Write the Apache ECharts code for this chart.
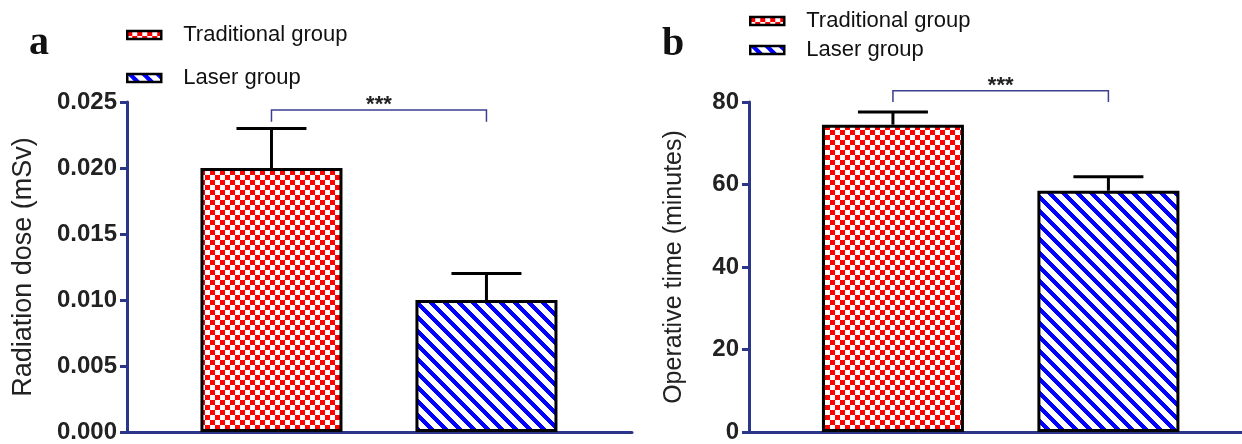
<!DOCTYPE html>
<html>
<head>
<meta charset="utf-8">
<script src="https://cdn.jsdelivr.net/npm/echarts@6/dist/echarts.min.js"></script>
<style>
html,body{margin:0;padding:0;background:#fff;}
#chart{width:1242px;height:444px;}
</style>
</head>
<body>
<div id="chart"></div>
<script>
// ---- data ----
const categories = ['Traditional group', 'Laser group'];
const barPositions = [1, 2];
const radiationMean = [0.020, 0.010];
const radiationSD = [0.003, 0.002];
const operativeMean = [74.5, 58.5];
const operativeSD = [3.1, 3.4];
const radiationTicks = [0, 0.005, 0.010, 0.015, 0.020, 0.025];
const operativeTicks = [0, 20, 40, 60, 80];
const radiationBracket = [0.0244, 0.0235];
const operativeBracket = [82.7, 80.0];
const sigLabels = ['***', '***'];
const panelLabels = ['a', 'b'];
const yTitles = ['Radiation dose (mSv)', 'Operative time (minutes)'];

// ---- patterns ----
function checker() {
  const c = document.createElement('canvas');
  c.width = 10; c.height = 10;
  const g = c.getContext('2d');
  g.fillStyle = '#ffffff'; g.fillRect(0, 0, 10, 10);
  g.fillStyle = '#ff0000';
  g.fillRect(0, 0, 5, 5); g.fillRect(5, 5, 5, 5);
  return c;
}
function stripes() {
  const n = 14;
  const c = document.createElement('canvas');
  c.width = n; c.height = n;
  const g = c.getContext('2d');
  const img = g.createImageData(n, n);
  for (let y = 0; y < n; y++) for (let x = 0; x < n; x++) {
    const d = (((x - y) % n) + n) % n;
    const i = (y * n + x) * 4;
    if (d < 6) { img.data[i] = 0; img.data[i+1] = 0; img.data[i+2] = 255; }
    else { img.data[i] = 255; img.data[i+1] = 255; img.data[i+2] = 255; }
    img.data[i+3] = 255;
  }
  g.putImageData(img, 0, 0);
  return c;
}
const fills = [
  { image: checker(), repeat: 'repeat' },
  { image: stripes(), repeat: 'repeat' }
];

const NAVY = '#2b3589';
const chart = echarts.init(document.getElementById('chart'), null, { renderer: 'canvas' });

const grids = [
  { left: 127, top: 102, width: 505, height: 334 },
  { left: 749, top: 102, width: 493, height: 334 }
];
const xRanges = [[0.328, 2.677], [0.332, 2.62]];
const yTickSets = [radiationTicks, operativeTicks];
const means = [radiationMean, operativeMean];
const sds = [radiationSD, operativeSD];
const brackets = [radiationBracket, operativeBracket];

const xAxes = [], yAxes = [], series = [];
for (let p = 0; p < 2; p++) {
  xAxes.push({
    gridIndex: p, type: 'value', min: xRanges[p][0], max: xRanges[p][1],
    axisLine: { show: true, lineStyle: { color: NAVY, width: 3 } },
    axisTick: { show: false }, axisLabel: { show: false }, splitLine: { show: false }
  });
  const t = yTickSets[p];
  yAxes.push({
    gridIndex: p, type: 'value', min: t[0], max: t[t.length - 1], interval: t[1] - t[0],
    name: yTitles[p], nameLocation: 'middle', nameGap: p === 0 ? 90 : 62,
    nameTextStyle: { fontFamily: 'Liberation Sans', fontSize: p === 0 ? 27 : 25, color: '#222' },
    axisLine: { show: true, lineStyle: { color: NAVY, width: 3 } },
    axisTick: { show: true, length: 7, lineStyle: { color: NAVY, width: 3 } },
    axisLabel: {
      margin: 10, fontFamily: 'Liberation Sans', fontWeight: 'bold', fontSize: 24, color: '#222',
      formatter: p === 0 ? (v) => v.toFixed(3) : (v) => String(v)
    },
    splitLine: { show: false }
  });
  for (let k = 0; k < 2; k++) {
    series.push({
      type: 'bar', name: categories[k], xAxisIndex: p, yAxisIndex: p,
      barWidth: 142, barGap: '-100%',
      data: [[barPositions[k], means[p][k]]],
      itemStyle: { color: fills[k], borderColor: '#000', borderWidth: 3 },
      emphasis: { disabled: true }
    });
  }
  series.push({
    type: 'custom', xAxisIndex: p, yAxisIndex: p, z: 5, clip: false,
    data: barPositions.map((x, k) => [x, means[p][k], sds[p][k]]),
    renderItem: function (params, api) {
      const x = api.value(0), m = api.value(1), s = api.value(2);
      const base = api.coord([x, m]);
      const top = api.coord([x, m + s]);
      return {
        type: 'group', children: [
          { type: 'line', shape: { x1: base[0], y1: base[1], x2: top[0], y2: top[1] }, style: { stroke: '#000', lineWidth: 3 } },
          { type: 'line', shape: { x1: top[0] - 35, y1: top[1], x2: top[0] + 35, y2: top[1] }, style: { stroke: '#000', lineWidth: 3 } }
        ]
      };
    }
  });
  series.push({
    type: 'custom', xAxisIndex: p, yAxisIndex: p, z: 5, clip: false,
    data: [[barPositions[0], barPositions[1], brackets[p][0], brackets[p][1]]],
    renderItem: function (params, api) {
      const a1 = api.coord([api.value(0), api.value(3)]);
      const a2 = api.coord([api.value(0), api.value(2)]);
      const b2 = api.coord([api.value(1), api.value(2)]);
      const b1 = api.coord([api.value(1), api.value(3)]);
      return {
        type: 'group', children: [
          { type: 'polyline', shape: { points: [a1, a2, b2, b1] }, style: { stroke: '#3a3f8f', lineWidth: 1.5, fill: null } },
          { type: 'text', x: (a2[0] + b2[0]) / 2, y: a2[1] - 5,
            style: { text: sigLabels[p], fill: '#222', font: 'bold 22px "Liberation Sans"', align: 'center', verticalAlign: 'middle' } }
        ]
      };
    }
  });
}

const legendBase = {
  orient: 'vertical', padding: 0, icon: 'rect', itemWidth: 34, itemHeight: 8,
  selectedMode: false, data: categories,
  itemStyle: { borderColor: '#000', borderWidth: 2.5 },
  textStyle: { fontFamily: 'Liberation Sans', fontSize: 22, color: '#111', lineHeight: 22, padding: [0, 0, 0, 17] }
};

chart.setOption({
  animation: false,
  grid: grids,
  xAxis: xAxes,
  yAxis: yAxes,
  legend: [
    Object.assign({}, legendBase, { left: 126, top: 24, itemGap: 21 }),
    Object.assign({}, legendBase, { left: 749, top: 10, itemGap: 7 })
  ],
  graphic: [
    { type: 'text', x: 29, y: 44, style: { text: panelLabels[0], font: 'bold 40px "Liberation Serif"', fill: '#111', verticalAlign: 'middle' } },
    { type: 'text', x: 662, y: 45, style: { text: panelLabels[1], font: 'bold 40px "Liberation Serif"', fill: '#111', verticalAlign: 'middle' } }
  ],
  series: series
});
</script>
</body>
</html>
